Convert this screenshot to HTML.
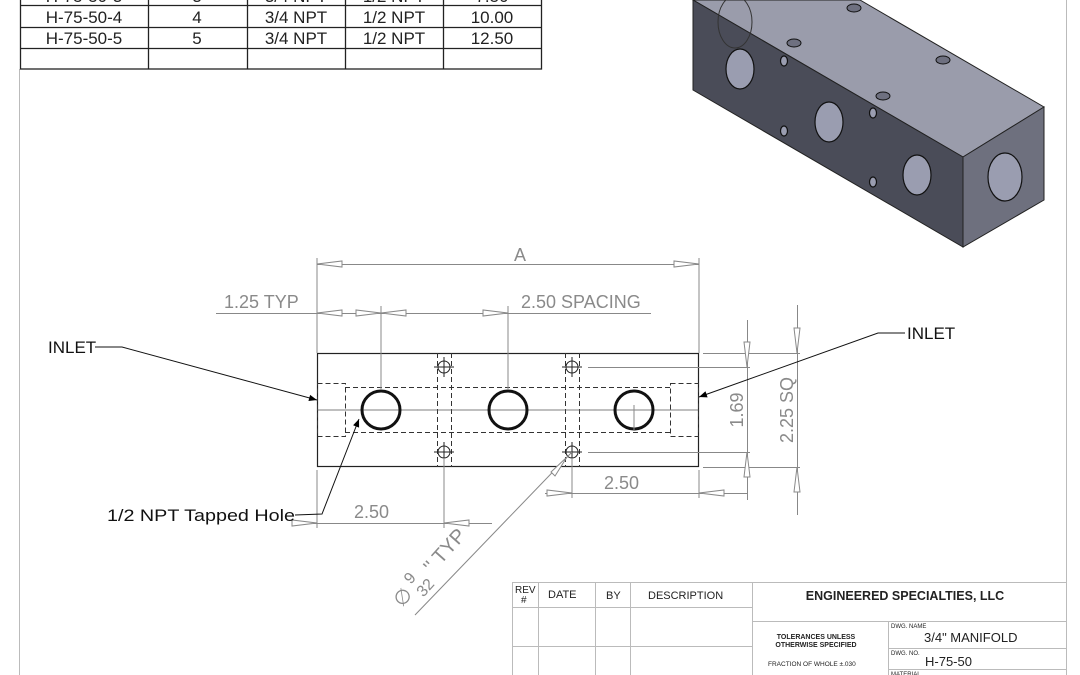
<!DOCTYPE html>
<html><head><meta charset="utf-8"><style>
html,body{margin:0;padding:0;background:#fff;width:1080px;height:675px;overflow:hidden}
svg{display:block}
text{font-family:"Liberation Sans",sans-serif}
</style></head><body>
<svg width="1080" height="675" viewBox="0 0 1080 675" xmlns="http://www.w3.org/2000/svg">
<defs>
<marker id="fa" viewBox="0 0 10 10" refX="10" refY="5" markerWidth="16" markerHeight="8" orient="auto" markerUnits="userSpaceOnUse"><path d="M0,1 L10,5 L0,9 z" fill="#000"/></marker>
</defs>
<line x1="19.5" y1="69" x2="19.5" y2="675" stroke="#bbb" stroke-width="1"/>
<line x1="1066.5" y1="0" x2="1066.5" y2="675" stroke="#bbb" stroke-width="1"/>

<g stroke="#222" stroke-width="1.3" fill="none">
<rect x="20.5" y="-2" width="521" height="71"/>
<line x1="20" y1="5.5" x2="541" y2="5.5"/>
<line x1="20" y1="27.5" x2="541" y2="27.5"/>
<line x1="20" y1="48.5" x2="541" y2="48.5"/>
<line x1="148.5" y1="0" x2="148.5" y2="69"/>
<line x1="247.5" y1="0" x2="247.5" y2="69"/>
<line x1="345.5" y1="0" x2="345.5" y2="69"/>
<line x1="443.5" y1="0" x2="443.5" y2="69"/>
</g>
<g font-size="17" fill="#222" text-anchor="middle">
<text x="84" y="2">H-75-50-3</text><text x="197" y="2">3</text><text x="296" y="2">3/4 NPT</text><text x="394" y="2">1/2 NPT</text><text x="492" y="2">7.50</text>
<text x="84" y="23">H-75-50-4</text><text x="197" y="23">4</text><text x="296" y="23">3/4 NPT</text><text x="394" y="23">1/2 NPT</text><text x="492" y="23">10.00</text>
<text x="84" y="44">H-75-50-5</text><text x="197" y="44">5</text><text x="296" y="44">3/4 NPT</text><text x="394" y="44">1/2 NPT</text><text x="492" y="44">12.50</text>
</g>

<polygon points="860,0 1044,107 963,157 693,0" fill="#9a9cab" stroke="#222" stroke-width="1"/>
<polygon points="693,0 963,157 963,247 693,90" fill="#4a4c58" stroke="#222" stroke-width="1"/>
<polygon points="963,157 1044,107 1044,200 963,247" fill="#6e707e" stroke="#222" stroke-width="1"/>
<ellipse cx="735" cy="22" rx="17" ry="26" fill="none" stroke="#333" stroke-width="1"/>
<g fill="#9a9db0" stroke="#111" stroke-width="1.2">
<ellipse cx="740" cy="69" rx="14" ry="20"/>
<ellipse cx="829" cy="122" rx="14" ry="20"/>
<ellipse cx="917" cy="175" rx="14" ry="20"/>
<ellipse cx="1005" cy="177" rx="17" ry="24"/>
<ellipse cx="784" cy="61" rx="3.5" ry="5"/>
<ellipse cx="784" cy="131" rx="3.5" ry="5"/>
<ellipse cx="873" cy="113" rx="3.5" ry="5"/>
<ellipse cx="873" cy="182" rx="3.5" ry="5"/>
</g>
<g fill="#6e7080" stroke="#111" stroke-width="1">
<ellipse cx="854" cy="8" rx="7" ry="4"/>
<ellipse cx="794" cy="43" rx="7" ry="4"/>
<ellipse cx="943" cy="60" rx="7" ry="4"/>
<ellipse cx="883" cy="96" rx="7" ry="4"/>
</g>

<g fill="none" stroke="#222" stroke-width="1.2">
<rect x="317.5" y="353.5" width="381" height="113"/>
</g>
<g fill="none" stroke="#333" stroke-width="1" stroke-dasharray="5,3">
<line x1="345" y1="387.5" x2="671" y2="387.5"/>
<line x1="345" y1="432.5" x2="671" y2="432.5"/>
<rect x="317.5" y="383.5" width="28" height="53"/>
<rect x="670.5" y="383.5" width="28" height="53"/>
<line x1="437.5" y1="353" x2="437.5" y2="467"/><line x1="451.5" y1="353" x2="451.5" y2="467"/>
<line x1="565.5" y1="353" x2="565.5" y2="467"/><line x1="579.5" y1="353" x2="579.5" y2="467"/>
</g>
<line x1="317" y1="410" x2="699" y2="410" stroke="#555" stroke-width="0.8"/>
<g fill="none" stroke="#111" stroke-width="3">
<circle cx="381" cy="410" r="19"/><circle cx="508" cy="410" r="19"/><circle cx="634" cy="410" r="19"/>
</g>
<g fill="none" stroke="#222" stroke-width="1">
<circle cx="444" cy="367" r="6"/><circle cx="444" cy="452" r="6"/>
<circle cx="572" cy="367" r="6"/><circle cx="572" cy="452" r="6"/>
<path d="M434,367h20M444,357v20M434,452h20M444,442v20M562,367h20M572,357v20M562,452h20M572,442v20"/>
</g>

<g stroke="#888" stroke-width="1" fill="none">
<line x1="317" y1="258" x2="317" y2="353"/><line x1="699" y1="258" x2="699" y2="353"/>
<line x1="317" y1="264.5" x2="699" y2="264.5"/>
<line x1="216" y1="313.5" x2="651" y2="313.5"/>
<line x1="381" y1="306" x2="381" y2="390"/><line x1="508" y1="306" x2="508" y2="390"/><line x1="634" y1="405" x2="634" y2="430"/>
<line x1="588" y1="367.5" x2="750" y2="367.5"/><line x1="588" y1="452.5" x2="750" y2="452.5"/>
<line x1="703" y1="353.5" x2="800" y2="353.5"/><line x1="703" y1="467.5" x2="800" y2="467.5"/>
<line x1="747.5" y1="320" x2="747.5" y2="500"/><line x1="797.5" y1="305" x2="797.5" y2="515"/>
<line x1="572" y1="458" x2="572" y2="498"/><line x1="699" y1="470" x2="699" y2="498"/>
<line x1="545" y1="493.5" x2="747" y2="493.5"/>
<line x1="317" y1="470" x2="317" y2="528"/><line x1="444" y1="458" x2="444" y2="528"/>
<line x1="300" y1="523.5" x2="492" y2="523.5"/>
<line x1="572" y1="452" x2="415" y2="615"/>
</g>
<g fill="#fff" stroke="#888" stroke-width="1">
<path d="M317,264 L342,261 L342,267 z"/><path d="M699,264 L674,261 L674,267 z"/>
<path d="M317,313 L342,310 L342,316 z"/><path d="M381,313 L356,310 L356,316 z"/><path d="M381,313 L406,310 L406,316 z"/><path d="M508,313 L483,310 L483,316 z"/>
<path d="M747,367 L744,342 L750,342 z"/><path d="M747,452 L744,477 L750,477 z"/>
<path d="M797,353 L794,328 L800,328 z"/><path d="M797,467 L794,492 L800,492 z"/>
<path d="M572,493 L547,490 L547,496 z"/><path d="M699,493 L724,490 L724,496 z"/>
<path d="M317,523 L292,520 L292,526 z"/><path d="M444,523 L469,520 L469,526 z"/>
<path d="M567,457 L555,476 L551,472 z"/>
</g>
<g fill="#8a8a8a" font-size="18">
<text x="520" y="261" text-anchor="middle">A</text>
<text x="224" y="308">1.25 TYP</text>
<text x="521" y="308">2.50 SPACING</text>
<text x="604" y="489">2.50</text>
<text x="354" y="518">2.50</text>
<text transform="translate(743,410) rotate(-90)" text-anchor="middle">1.69</text>
<text transform="translate(793,410) rotate(-90)" text-anchor="middle">2.25 SQ</text>
<text transform="translate(402,608) rotate(-48)" font-size="20">∅ <tspan font-size="16" dy="-9">9</tspan><tspan font-size="16" dx="-10" dy="18">32</tspan><tspan dy="-9"> '' TYP</tspan></text>
</g>

<g stroke="#111" stroke-width="1" fill="none">
<polyline points="95,347 122,347 317,400" marker-end="url(#fa)"/>
<polyline points="905,333 878,333 699,397" marker-end="url(#fa)"/>
<polyline points="295,515 322,514 359,419" marker-end="url(#fa)"/>
</g>
<g font-size="17" fill="#111">
<text x="48" y="353">INLET</text>
<text x="907" y="339">INLET</text>
<text x="107" y="521" textLength="188" lengthAdjust="spacingAndGlyphs">1/2 NPT Tapped Hole</text>
</g>

<g stroke="#bbb" stroke-width="1" fill="none">
<line x1="512" y1="582.5" x2="1066" y2="582.5"/>
<line x1="512.5" y1="582" x2="512.5" y2="675"/>
<line x1="538.5" y1="582" x2="538.5" y2="675"/>
<line x1="595.5" y1="582" x2="595.5" y2="675"/>
<line x1="630.5" y1="582" x2="630.5" y2="675"/>
<line x1="752.5" y1="582" x2="752.5" y2="675"/>
<line x1="512" y1="607.5" x2="752" y2="607.5"/>
<line x1="512" y1="646.5" x2="752" y2="646.5"/>
<line x1="752" y1="621.5" x2="1066" y2="621.5"/>
<line x1="888.5" y1="621" x2="888.5" y2="675"/>
<line x1="888" y1="648.5" x2="1066" y2="648.5"/>
<line x1="888" y1="669.5" x2="1066" y2="669.5"/>
</g>
<g fill="#222">
<text x="515" y="593" font-size="10">REV</text><text x="521" y="603" font-size="10">#</text>
<text x="548" y="598" font-size="11">DATE</text>
<text x="606" y="599" font-size="11">BY</text>
<text x="648" y="599" font-size="11">DESCRIPTION</text>
<text x="905" y="600" font-size="12.5" font-weight="bold" text-anchor="middle">ENGINEERED SPECIALTIES, LLC</text>
<text x="816" y="639" font-size="7" font-weight="bold" text-anchor="middle">TOLERANCES UNLESS</text>
<text x="816" y="647" font-size="7" font-weight="bold" text-anchor="middle">OTHERWISE SPECIFIED</text>
<text x="768" y="666" font-size="6.5">FRACTION OF WHOLE   ±.030</text>
<text x="891" y="628" font-size="6">DWG. NAME</text>
<text x="924" y="642" font-size="13">3/4" MANIFOLD</text>
<text x="891" y="655" font-size="6">DWG. NO.</text>
<text x="925" y="666" font-size="13">H-75-50</text>
<text x="891" y="676" font-size="6">MATERIAL</text>
</g>
</svg>
</body></html>
